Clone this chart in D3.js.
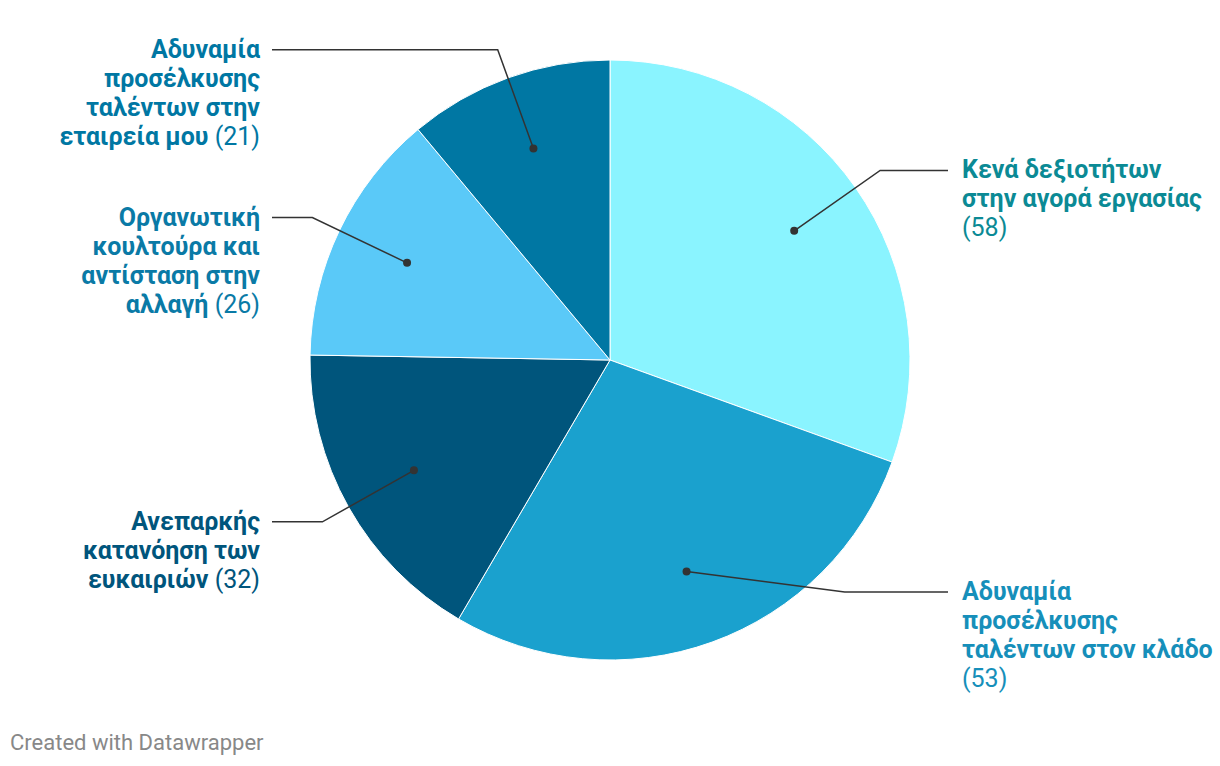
<!DOCTYPE html>
<html>
<head>
<meta charset="utf-8">
<script src="https://cdn.jsdelivr.net/npm/d3@7"></script>
<style>
  body { margin: 0; background: #fff; }
  svg { font-family: Roboto, sans-serif; }
</style>
</head>
<body>
<div id="chart"></div>
<script>
// data
const categories = [
  'Κενά δεξιοτήτων στην αγορά εργασίας',
  'Αδυναμία προσέλκυσης ταλέντων στον κλάδο',
  'Ανεπαρκής κατανόηση των ευκαιριών',
  'Οργανωτική κουλτούρα και αντίσταση στην αλλαγή',
  'Αδυναμία προσέλκυσης ταλέντων στην εταιρεία μου'
];
const values = [58, 53, 32, 26, 21];
// how each label breaks into lines (the value is appended to the last item)
const labelLines = [
  ['Κενά δεξιοτήτων', 'στην αγορά εργασίας', ''],
  ['Αδυναμία', 'προσέλκυσης', 'ταλέντων στον κλάδο', ''],
  ['Ανεπαρκής', 'κατανόηση των', 'ευκαιριών'],
  ['Οργανωτική', 'κουλτούρα και', 'αντίσταση στην', 'αλλαγή'],
  ['Αδυναμία', 'προσέλκυσης', 'ταλέντων στην', 'εταιρεία μου']
];
const sliceColors = ['#8af4ff', '#1aa1ce', '#00557c', '#5ac9f8', '#0077a3'];
const labelColors = ['#0b8a95', '#168fba', '#00557c', '#0a7aa6', '#0077a3'];

const width = 1220, height = 766;
const cx = 610, cy = 360, R = 300;
const lineH = 29;
const maxLabelBottom = 679; // centre of last label line may not go below this

const svg = d3.select('#chart').append('svg')
  .attr('width', width)
  .attr('height', height);

const g = svg.append('g').attr('transform', `translate(${cx},${cy})`);

const rows = values.map((v, i) => ({ name: categories[i], value: v, i }));
const pie = d3.pie().sort(null).value(d => d.value);
const arcs = pie(rows);
const arc = d3.arc().innerRadius(0).outerRadius(R);

g.selectAll('path.slice')
  .data(arcs)
  .enter()
  .append('path')
  .attr('class', 'slice')
  .attr('d', arc)
  .attr('fill', d => sliceColors[d.data.i])
  .attr('stroke', '#fff')
  .attr('stroke-width', 1);

// leader lines + labels
arcs.forEach(d => {
  const a = (d.startAngle + d.endAngle) / 2;
  const dot = [Math.sin(a) * R * 0.75, -Math.cos(a) * R * 0.75];
  const rEl = R * 1.1;
  let ey = -Math.cos(a) * rEl;
  const lines = labelLines[d.data.i];
  const lastOff = (lines.length - 1) * lineH;
  if (cy + ey + lastOff > maxLabelBottom) ey = maxLabelBottom - lastOff - cy;
  const right = Math.sin(a) >= 0;
  const ex = (right ? 1 : -1) * Math.sqrt(Math.max(0, rEl * rEl - ey * ey));
  const endX = (right ? 1 : -1) * (R + 38);

  g.append('path')
    .attr('d', d3.line()([dot, [ex, ey], [endX, ey]]))
    .attr('fill', 'none')
    .attr('stroke', '#333')
    .attr('stroke-width', 1.5);

  g.append('circle')
    .attr('cx', dot[0])
    .attr('cy', dot[1])
    .attr('r', 4)
    .attr('fill', '#333');

  const tx = right ? endX + 14 : endX - 12;
  const text = g.append('text')
    .attr('x', tx)
    .attr('y', ey + 8)
    .attr('text-anchor', right ? 'start' : 'end')
    .attr('fill', labelColors[d.data.i])
    .style('font-size', '25px');

  lines.forEach((ln, k) => {
    const ts = text.append('tspan')
      .attr('x', tx)
      .attr('dy', k === 0 ? 0 : lineH);
    const last = k === lines.length - 1;
    if (ln) ts.append('tspan').attr('font-weight', 700).text(ln);
    if (last) {
      ts.append('tspan')
        .attr('font-weight', 400)
        .text((ln ? ' ' : '') + '(' + d.data.value + ')');
    }
  });
});

svg.append('text')
  .attr('x', 10)
  .attr('y', 750)
  .attr('fill', '#888')
  .style('font-size', '22px')
  .text('Created with Datawrapper');
</script>
</body>
</html>
